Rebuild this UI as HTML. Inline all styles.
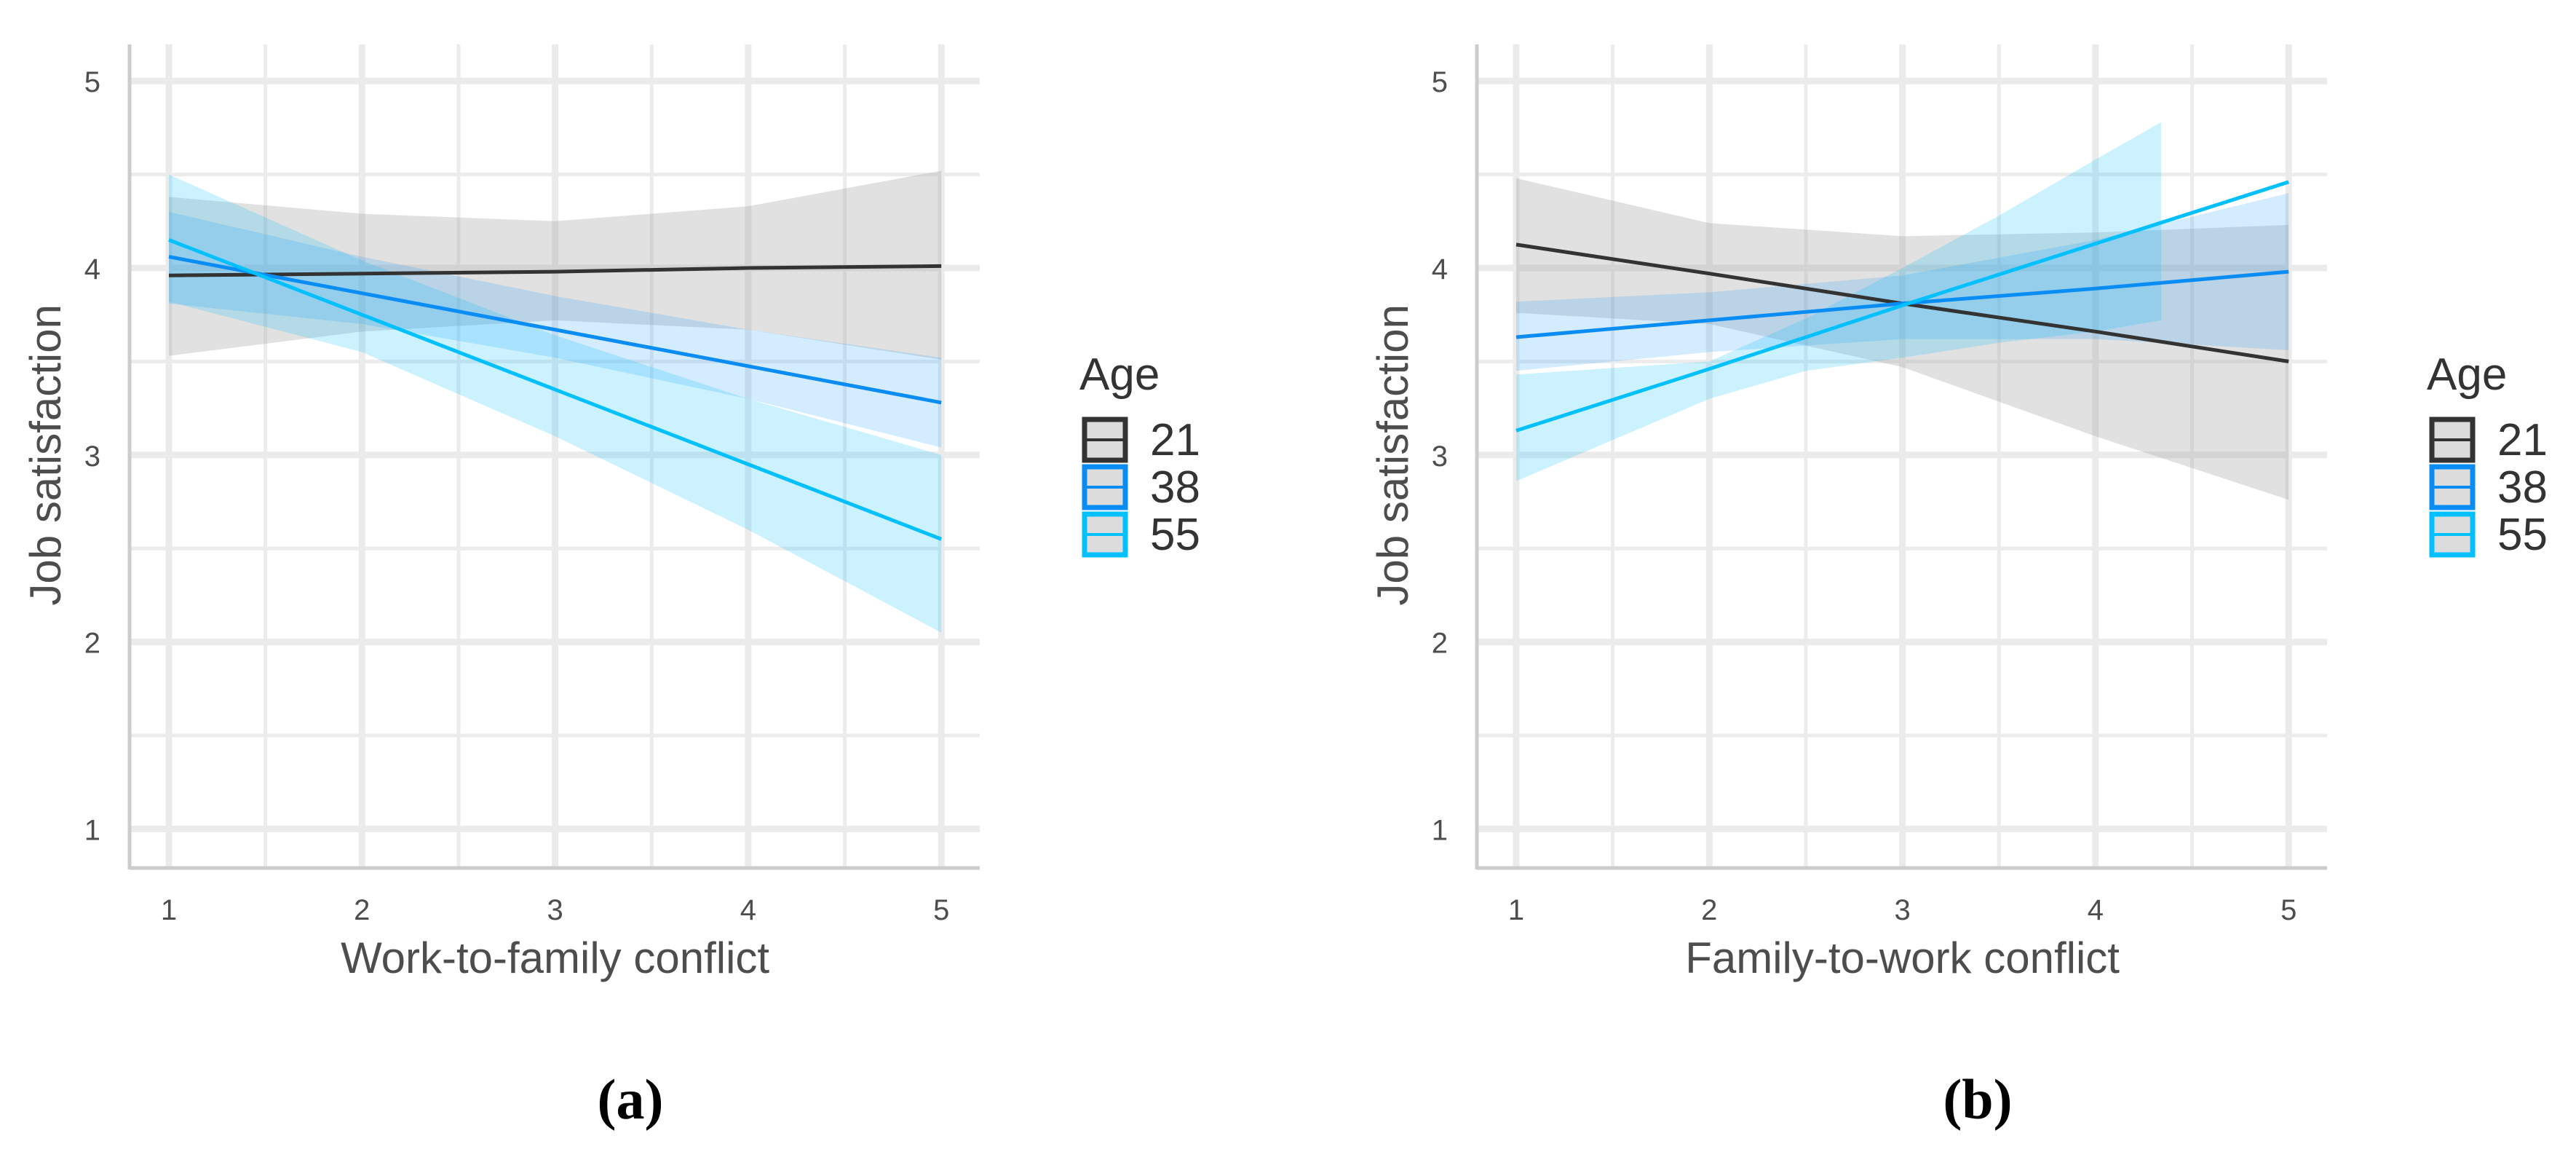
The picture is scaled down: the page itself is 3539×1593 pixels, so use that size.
<!DOCTYPE html>
<html><head><meta charset="utf-8"><style>
html,body{margin:0;padding:0;background:#fff;}
svg{display:block;font-family:"Liberation Sans",sans-serif;}
</style></head><body>
<svg id="chart" width="3539" height="1593" viewBox="0 0 3539 1593" xmlns="http://www.w3.org/2000/svg"></svg>
<script>
// ---- data ----
const xTicks = [1, 2, 3, 4, 5];
const yTicks = [1, 2, 3, 4, 5];
const ages = ["21", "38", "55"];
// Panel (a): work-to-family conflict
const aX = [1, 2, 3, 4, 5];
const aLine21 = [3.96, 3.97, 3.98, 4.0, 4.01];
const aUp21 = [4.38, 4.29, 4.25, 4.33, 4.52];
const aLo21 = [3.53, 3.66, 3.72, 3.67, 3.51];
const aLine38 = [4.06, 3.865, 3.67, 3.475, 3.28];
const aUp38 = [4.30, 4.06, 3.85, 3.67, 3.52];
const aLo38 = [3.81, 3.70, 3.52, 3.30, 3.04];
const aLine55 = [4.15, 3.75, 3.35, 2.95, 2.55];
const aUp55 = [4.50, 4.04, 3.64, 3.30, 3.00];
const aLo55 = [3.82, 3.55, 3.10, 2.60, 2.05];
// Panel (b): family-to-work conflict
const bX = [1, 2, 3, 4, 5];
const bLine21 = [4.125, 3.97, 3.81, 3.66, 3.50];
const bUp21 = [4.48, 4.24, 4.17, 4.19, 4.23];
const bLo21 = [3.76, 3.70, 3.47, 3.10, 2.76];
const bLine38 = [3.63, 3.72, 3.81, 3.89, 3.98];
const bUp38 = [3.82, 3.87, 3.96, 4.15, 4.40];
const bLo38 = [3.45, 3.55, 3.62, 3.62, 3.56];
const bLine55 = [3.13, 3.46, 3.80, 4.13, 4.46];
const bBandX55 = [1, 2, 2.5, 3, 3.5, 4, 4.34];
const bUp55 = [3.43, 3.50, 3.73, 4.00, 4.28, 4.58, 4.78];
const bLo55 = [2.86, 3.30, 3.45, 3.52, 3.60, 3.66, 3.72];

const NS = "http://www.w3.org/2000/svg";
const svg = document.getElementById("chart");
function mk(tag, attrs, parent) {
  const e = document.createElementNS(NS, tag);
  for (const k in attrs) e.setAttribute(k, attrs[k]);
  (parent || svg).appendChild(e);
  return e;
}
const colors = { "21": "#333333", "38": "#0a8cf5", "55": "#00c0ff" };
const bandFill = { "21": "#9a9a9a", "38": "#0090ff", "55": "#00bfff" };
const bandOp = { "21": 0.3, "38": 0.17, "55": 0.2 };

function panel(off, id, xTitle, tag, series) {
  const g = mk("g", {});
  
  
  const sx = v => off + 232 + (v - 1) * 265.3;
  const sy = v => 368 - (v - 4) * 256.8;
  const L = off + 178, R = off + 1346, T = 61, B = 1192;
  for (let v = 1.5; v < 5; v += 1) {
    const l = mk("line", { x1: sx(v), x2: sx(v), y1: T, y2: B, stroke: "#ececec", "stroke-width": 5 }, g);
    
    
    const h = mk("line", { x1: L, x2: R, y1: sy(v), y2: sy(v), stroke: "#ececec", "stroke-width": 5 }, g);
    
    
  }
  xTicks.forEach(v => {
    const l = mk("line", { x1: sx(v), x2: sx(v), y1: T, y2: B, stroke: "#ebebeb", "stroke-width": 9 }, g);
    
    
    const t = mk("text", { x: sx(v), y: 1263, "text-anchor": "middle", "font-size": 40, fill: "#4d4d4d" }, g);
    t.textContent = v;
    
    
  });
  yTicks.forEach(v => {
    const l = mk("line", { x1: L, x2: R, y1: sy(v), y2: sy(v), stroke: "#ebebeb", "stroke-width": 9 }, g);
    
    
    const t = mk("text", { x: off + 138, y: sy(v) + 15, "text-anchor": "end", "font-size": 40, fill: "#4d4d4d" }, g);
    t.textContent = v;
    
    
  });
  const ax = mk("line", { x1: L, x2: L, y1: T, y2: B + 2, stroke: "#cccccc", "stroke-width": 5 }, g);
  
  
  const bx = mk("line", { x1: L, x2: R, y1: B, y2: B, stroke: "#cccccc", "stroke-width": 5 }, g);
  
  
  series.forEach(s => {
    let pts = s.bx.map((x, i) => sx(x) + "," + sy(s.up[i]));
    pts = pts.concat(s.bx.map((x, i) => sx(x) + "," + sy(s.lo[i])).reverse());
    const p = mk("polygon", { points: pts.join(" "), fill: bandFill[s.age], "fill-opacity": bandOp[s.age] }, g);
    
    
  });
  series.forEach(s => {
    const p = mk("polyline", { points: s.x.map((x, i) => sx(x) + "," + sy(s.line[i])).join(" "), fill: "none", stroke: colors[s.age], "stroke-width": 5 }, g);
    
    
  });
  const xt = mk("text", { x: sx(3), y: 1336, "text-anchor": "middle", "font-size": 60, fill: "#4d4d4d" }, g);
  xt.textContent = xTitle;
  
  
  const yt = mk("text", { x: 0, y: 0, "text-anchor": "middle", "font-size": 60, fill: "#4d4d4d", transform: "translate(" + (off + 83) + "," + sy(3) + ") rotate(-90)" }, g);
  yt.textContent = "Job satisfaction";
  
  
  const lab = mk("text", { x: off + 866, y: 1536, "text-anchor": "middle", "font-size": 78, "font-weight": "bold", fill: "#000", "font-family": "Liberation Serif, serif" }, g);
  lab.textContent = tag;
  
  
  const lg = mk("g", {}, g);
  
  
  const at = mk("text", { x: off + 1483, y: 535, "font-size": 62, fill: "#333" }, lg);
  at.textContent = "Age";
  
  
  ages.forEach((a, i) => {
    const y0 = 573 + i * 65;
    const e = mk("g", {}, lg);
    
    
    mk("rect", { x: off + 1490, y: y0 + 3, width: 56, height: 56, fill: "#dcdcdc", stroke: colors[a], "stroke-width": 7 }, e);
    mk("line", { x1: off + 1490, x2: off + 1546, y1: y0 + 31, y2: y0 + 31, stroke: colors[a], "stroke-width": 4 }, e);
    const t = mk("text", { x: off + 1580, y: y0 + 52, "font-size": 62, fill: "#333" }, e);
    t.textContent = a;
  });
}
panel(0, "a", "Work-to-family conflict", "(a)", [
  { age: "21", x: aX, line: aLine21, bx: aX, up: aUp21, lo: aLo21 },
  { age: "38", x: aX, line: aLine38, bx: aX, up: aUp38, lo: aLo38 },
  { age: "55", x: aX, line: aLine55, bx: aX, up: aUp55, lo: aLo55 }
]);
panel(1851, "b", "Family-to-work conflict", "(b)", [
  { age: "21", x: bX, line: bLine21, bx: bX, up: bUp21, lo: bLo21 },
  { age: "38", x: bX, line: bLine38, bx: bX, up: bUp38, lo: bLo38 },
  { age: "55", x: bX, line: bLine55, bx: bBandX55, up: bUp55, lo: bLo55 }
]);
</script>
</body></html>
